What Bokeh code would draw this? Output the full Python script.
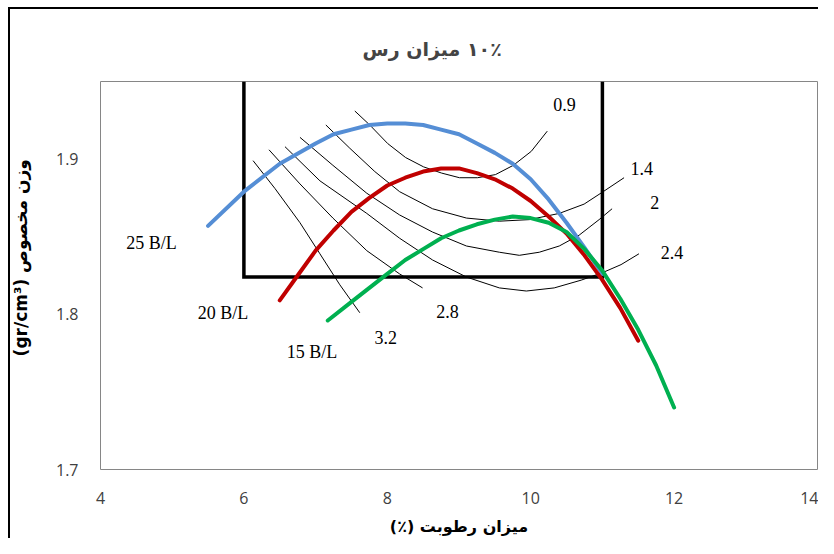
from bokeh.plotting import figure
from bokeh.models import Range1d, FixedTicker, ColumnDataSource
from bokeh.core.properties import value
from bokeh.embed import file_html
from bokeh.resources import INLINE

# ---- data ----
title_text = "\u200f۱۰٪ میزان رس"
x_label = "(٪) میزان رطوبت"
y_label = "\u2007\u2007\u2007(gr/cm³) وزن مخصوص"

x_ticks = [4, 6, 8, 10, 12, 14]
y_ticks = [1.7, 1.8, 1.9]

# bulk density curves (moisture %, density)
b25_x = [5.5, 6.0, 6.5, 7.0, 7.25, 7.5, 7.75, 8.0, 8.25, 8.5, 8.75, 9.0, 9.25, 9.5, 9.75, 10.0, 10.25, 10.5, 10.75, 11.0]
b25_y = [1.857, 1.879, 1.897, 1.910, 1.916, 1.919, 1.922, 1.923, 1.923, 1.922, 1.919, 1.916, 1.910, 1.904, 1.897, 1.887, 1.874, 1.859, 1.843, 1.826]
b20_x = [6.5, 6.75, 7.0, 7.25, 7.5, 7.75, 8.0, 8.25, 8.5, 8.75, 9.0, 9.25, 9.5, 9.75, 10.0, 10.25, 10.5, 10.75, 11.0, 11.25, 11.5]
b20_y = [1.809, 1.825, 1.841, 1.854, 1.866, 1.875, 1.883, 1.888, 1.892, 1.894, 1.894, 1.891, 1.887, 1.881, 1.873, 1.863, 1.852, 1.838, 1.822, 1.804, 1.783]
b15_x = [7.17, 7.5, 7.75, 8.0, 8.25, 8.5, 8.75, 9.0, 9.25, 9.5, 9.75, 10.0, 10.25, 10.5, 10.75, 11.0, 11.25, 11.5, 11.75, 12.0]
b15_y = [1.796, 1.808, 1.817, 1.826, 1.835, 1.842, 1.849, 1.854, 1.858, 1.861, 1.863, 1.862, 1.859, 1.853, 1.842, 1.828, 1.810, 1.790, 1.767, 1.740]
series_names = ["25 B/L", "20 B/L", "15 B/L"]
series_colors = ["#558ED5", "#C00000", "#00B050"]
series_label_x = [4.71, 5.71, 6.95]
series_label_y = [1.846, 1.801, 1.776]

# contour lines
c09_x = [7.547, 7.755, 8.006, 8.256, 8.506, 8.757, 9.007, 9.257, 9.508, 9.758, 10.008, 10.231]
c09_y = [1.931, 1.922, 1.910, 1.901, 1.895, 1.891, 1.888, 1.888, 1.890, 1.896, 1.905, 1.918]
c14_x = [7.143, 7.477, 7.825, 8.172, 8.631, 9.104, 9.563, 9.981, 10.398, 10.745, 11.010, 11.302]
c14_y = [1.922, 1.907, 1.892, 1.879, 1.868, 1.862, 1.860, 1.861, 1.865, 1.871, 1.879, 1.888]
c20_x = [6.782, 7.241, 7.714, 8.172, 8.631, 9.104, 9.563, 9.841, 10.120, 10.398, 10.676, 10.954, 11.135]
c20_y = [1.914, 1.896, 1.878, 1.864, 1.853, 1.844, 1.840, 1.838, 1.840, 1.844, 1.851, 1.861, 1.868]
c24_x = [6.573, 7.060, 7.714, 8.172, 8.631, 9.104, 9.563, 9.939, 10.328, 10.704, 11.010, 11.260, 11.510]
c24_y = [1.908, 1.886, 1.865, 1.849, 1.835, 1.824, 1.817, 1.815, 1.817, 1.822, 1.827, 1.832, 1.839]
c28_x = [6.350, 6.782, 7.241, 7.714, 8.172, 8.492]
c28_y = [1.906, 1.884, 1.862, 1.841, 1.826, 1.817]
c32_x = [6.128, 6.434, 6.782, 7.060, 7.338, 7.616]
c32_y = [1.899, 1.881, 1.859, 1.839, 1.819, 1.801]
contour_names = ["0.9", "1.4", "2", "2.4", "2.8", "3.2"]
contour_label_x = [10.47, 11.55, 11.73, 11.97, 8.84, 7.98]
contour_label_y = [1.935, 1.894, 1.872, 1.840, 1.802, 1.785]

# optimum box
box_x = [6, 6, 11, 11]
box_y = [1.95, 1.824, 1.824, 1.95]

# ---- figure ----
p = figure(width=818, height=538, output_backend="svg", toolbar_location=None,
           x_range=Range1d(4, 14), y_range=Range1d(1.7, 1.95),
           min_border_left=100, min_border_right=1, min_border_top=81, min_border_bottom=68)
p.styles = {"background": "linear-gradient(#000,#000) 8px 7px / 2px 100% no-repeat, "
                          "linear-gradient(#000,#000) 8px 7px / 100% 2px no-repeat, #ffffff"}
p.background_fill_color = "white"
p.border_fill_color = None
p.outline_line_color = "#868686"
p.outline_line_width = 1
p.grid.visible = False

for ax in (p.xaxis[0], p.yaxis[0]):
    ax.axis_line_color = None
    ax.major_tick_line_color = None
    ax.minor_tick_line_color = None
    ax.major_label_text_font = "Open Sans"
    ax.major_label_text_font_size = "16px"
    ax.major_label_text_color = "#404040"
    ax.axis_label_text_font = "DejaVu Sans"
    ax.axis_label_text_font_style = "bold"
    ax.axis_label_text_color = "black"
p.xaxis.ticker = FixedTicker(ticks=x_ticks)
p.yaxis.ticker = FixedTicker(ticks=y_ticks)
p.yaxis.major_label_overrides = {t: f"{t:.1f}" for t in y_ticks}
p.xaxis.major_label_standoff = 16
p.yaxis.major_label_standoff = 16
p.xaxis.axis_label = x_label
p.xaxis.axis_label_text_font_size = "16px"
p.xaxis.axis_label_standoff = 10
p.yaxis.axis_label = y_label
p.yaxis.axis_label_text_font_size = "17px"
p.yaxis.axis_label_standoff = 22

p.title.text = title_text
p.title.align = "left"
p.title.offset = 262
p.title.text_font = "DejaVu Sans"
p.title.text_font_size = "19px"
p.title.text_font_style = "bold"
p.title.standoff = 44

# box
p.line(box_x, box_y, line_color="black", line_width=3.5, line_join="miter")

# contours
for cx, cy in [(c09_x, c09_y), (c14_x, c14_y), (c20_x, c20_y),
               (c24_x, c24_y), (c28_x, c28_y), (c32_x, c32_y)]:
    p.line(cx, cy, line_color="black", line_width=1, line_join="round")

# bulk density curves
for sx, sy, col in [(b25_x, b25_y, series_colors[0]), (b20_x, b20_y, series_colors[1]),
                    (b15_x, b15_y, series_colors[2])]:
    p.line(sx, sy, line_color=col, line_width=4, line_join="round", line_cap="round")

lab_src = ColumnDataSource(dict(x=series_label_x + contour_label_x,
                                y=series_label_y + contour_label_y,
                                t=series_names + contour_names))
p.text(x="x", y="y", text="t", source=lab_src, text_font=value("Liberation Serif"),
       text_font_size="18px", text_align="center", text_baseline="middle", text_color="black")

open("out.html", "w").write(file_html(p, INLINE))
